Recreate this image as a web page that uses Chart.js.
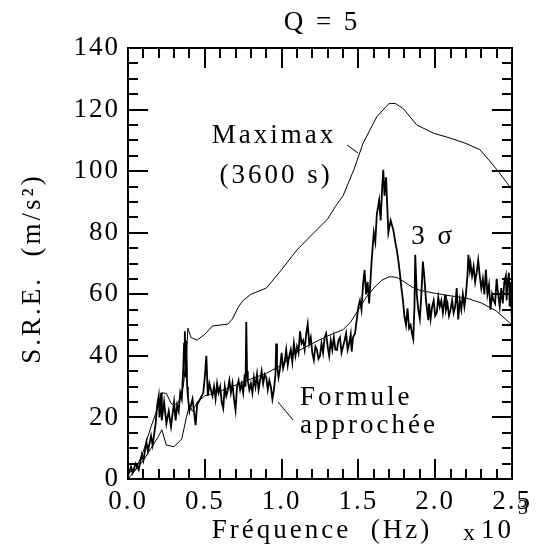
<!DOCTYPE html>
<html>
<head>
<meta charset="utf-8">
<script src="https://cdn.jsdelivr.net/npm/chart.js@4/dist/chart.umd.min.js"></script>
<style>
  html, body { margin: 0; padding: 0; background: #fff; }
  canvas { display: block; }
</style>
</head>
<body>
<canvas id="c" width="543" height="550"></canvas>
<script>
// Frequencies in kHz (axis reads "x 10^3" Hz), response in m/s^2

// Maximax response spectrum (3600 s)
const maximaxFreq = [0.00, 0.05, 0.10, 0.15, 0.20, 0.22, 0.25, 0.28, 0.30, 0.33, 0.36, 0.38, 0.39, 0.41, 0.45,
  0.50, 0.55, 0.65, 0.68, 0.72, 0.75, 0.80, 0.90, 1.00, 1.10, 1.20, 1.30, 1.35, 1.40, 1.47, 1.53, 1.62, 1.70,
  1.74, 1.79, 1.88, 1.99, 2.10, 2.20, 2.29, 2.36, 2.42, 2.50];
const maximaxVal = [0, 3, 9, 17, 24, 28, 27.8, 24.6, 24, 25, 30, 40, 49, 46, 45.1,
  47, 49.7, 50.3, 52, 56, 58, 60, 62, 68, 74.4, 79.5, 84.5, 88.5, 92, 100.4, 109, 117.7, 122,
  122, 120.4, 115, 112.3, 110.7, 109, 107, 103, 99.3, 94];

// Approximate formula
const formuleFreq = [0.00, 0.05, 0.10, 0.15, 0.20, 0.22, 0.25, 0.30, 0.35, 0.38, 0.40, 0.42, 0.45, 0.50, 0.60,
  0.70, 0.80, 0.90, 1.00, 1.10, 1.20, 1.30, 1.40, 1.45, 1.50, 1.55, 1.60, 1.65, 1.70, 1.75, 1.80, 1.85, 1.90,
  2.00, 2.10, 2.20, 2.30, 2.40, 2.50];
const formuleVal = [2, 3, 6, 10, 14, 16, 11, 10.5, 13, 20, 24, 22, 25, 27, 28.5,
  30.5, 32.5, 34.3, 37, 41.4, 44, 46.5, 48.5, 51, 55, 59, 62, 64.5, 65.7, 65.5, 64, 62.3, 61.3,
  60.3, 59.5, 58.8, 57.2, 54.5, 50];

// 3 sigma response
const sigmaFreq = [0.00, 0.02, 0.03, 0.05, 0.07, 0.09, 0.10, 0.12, 0.13, 0.15, 0.16, 0.18, 0.19, 0.20, 0.205,
  0.215, 0.22, 0.235, 0.25, 0.265, 0.28, 0.29, 0.30, 0.31, 0.32, 0.33, 0.34, 0.35, 0.36, 0.365, 0.37, 0.375,
  0.38, 0.385, 0.39, 0.40, 0.42, 0.44, 0.45, 0.47, 0.49, 0.50, 0.51, 0.52, 0.53, 0.54, 0.55, 0.56, 0.57, 0.58,
  0.59, 0.60, 0.61, 0.62, 0.63, 0.64, 0.65, 0.66, 0.67, 0.68, 0.69, 0.70, 0.71, 0.72, 0.73, 0.74, 0.75, 0.76,
  0.765, 0.77, 0.775, 0.78, 0.79, 0.80, 0.81, 0.82, 0.83, 0.84, 0.85, 0.86, 0.87, 0.88, 0.89, 0.90, 0.91, 0.92,
  0.93, 0.94, 0.95, 0.96, 0.965, 0.97, 0.98, 0.99, 1.00, 1.01, 1.02, 1.03, 1.04, 1.05, 1.06, 1.07, 1.08, 1.09,
  1.10, 1.11, 1.12, 1.13, 1.14, 1.15, 1.16, 1.17, 1.18, 1.19, 1.20, 1.21, 1.22, 1.23, 1.24, 1.25, 1.26, 1.27,
  1.28, 1.29, 1.30, 1.31, 1.32, 1.33, 1.34, 1.35, 1.36, 1.37, 1.38, 1.39, 1.40, 1.41, 1.42, 1.43, 1.44, 1.45,
  1.456, 1.465, 1.478, 1.49, 1.50, 1.51, 1.52, 1.53, 1.54, 1.55, 1.56, 1.57, 1.585, 1.60, 1.61, 1.62, 1.635,
  1.645, 1.655, 1.662, 1.67, 1.68, 1.69, 1.695, 1.71, 1.727, 1.74, 1.75, 1.76, 1.77, 1.78, 1.79, 1.80, 1.81,
  1.82, 1.83, 1.84, 1.85, 1.857, 1.865, 1.87, 1.88, 1.89, 1.90, 1.91, 1.92, 1.93, 1.94, 1.955, 1.96, 1.97,
  1.98, 1.99, 2.00, 2.01, 2.02, 2.03, 2.04, 2.05, 2.065, 2.07, 2.08, 2.09, 2.10, 2.11, 2.12, 2.13, 2.14, 2.15,
  2.16, 2.17, 2.18, 2.19, 2.20, 2.21, 2.216, 2.225, 2.23, 2.24, 2.25, 2.26, 2.27, 2.28, 2.29, 2.30, 2.31, 2.32,
  2.33, 2.34, 2.35, 2.36, 2.37, 2.38, 2.39, 2.40, 2.41, 2.42, 2.43, 2.44, 2.45, 2.46, 2.465, 2.47, 2.48, 2.485,
  2.49, 2.495, 2.50];
const sigmaVal = [1, 4, 2, 5, 3, 8, 6, 12, 9, 14, 11, 18, 24, 27, 20,
  28, 19, 25, 18, 22, 17, 21, 25, 19, 24, 22, 28, 26, 36, 44, 48, 33,
  45, 30, 27, 22, 26, 17.5, 24, 26, 28, 33, 40, 27, 31, 29, 27, 30, 26, 31,
  28, 30, 25, 23, 30, 27, 29, 32, 28, 31, 26, 22.4, 30, 32, 29, 31, 28, 34,
  30, 51, 35, 32, 29, 31, 28, 33, 30, 34, 29, 32, 35, 31, 34, 33, 29, 32,
  30, 26, 29, 34, 44, 37, 33, 36, 41, 36, 38, 42, 37, 40, 42, 38, 44, 40,
  43, 41, 48, 44, 45, 42, 47, 50.3, 44, 46, 41, 38.6, 43, 42, 39, 40, 44, 41,
  46, 47.3, 43, 40, 45, 42, 46, 42, 41.9, 45, 46, 41, 43, 45, 47.3, 42, 44, 47,
  41.4, 46, 47.3, 52, 56, 58, 55, 63, 67.9, 60, 64, 57, 70, 80, 77, 86, 90.6,
  84, 95, 100.4, 92, 98, 86, 80, 84, 81, 77, 74.4, 71, 66.8, 62, 58, 52.7, 50,
  55.4, 49, 50, 47, 45.5, 56, 72.8, 60, 55, 52, 60, 70.6, 65, 58, 51.6, 57, 52,
  56, 58, 53, 54, 59, 56, 58, 54, 59.8, 55, 57, 53, 55, 58, 54, 56, 62, 51.8,
  58, 55, 60, 56, 60, 66, 72.8, 68, 70, 66, 69, 64, 67, 71, 66, 62, 65, 60,
  68, 60, 63, 55, 60, 58, 57, 65, 60, 56, 62, 57, 64, 66, 58, 63, 67, 56,
  64, 60, 49];

// Axis ranges and tick spacing
const xMin = 0, xMax = 2.5, xMajor = 0.5, xMinor = 0.1;
const yMin = 0, yMax = 140, yMajor = 20, yMinor = 5;

// Text labels placed in data coordinates
const curveLabels = [
  { text: 'Maximax', x: 0.95, y: 111.4, align: 'center' },
  { text: '(3600 s)', x: 0.964, y: 98.4, align: 'center' },
  { text: '3 \u03C3', x: 1.986, y: 78.6, align: 'center' },
  { text: 'Formule', x: 1.12, y: 26.3, align: 'left' },
  { text: 'approchée', x: 1.12, y: 17.4, align: 'left' }
];
const leaderLines = [
  { x1: 1.426, y1: 108.5, x2: 1.497, y2: 105.9 },
  { x1: 0.977, y1: 25.0, x2: 1.074, y2: 19.2 }
];

const FONT = '"Liberation Serif", "Times New Roman", serif';

function pairs(xs, ys) { return xs.map((x, i) => ({ x: x, y: ys[i] })); }

const spacingPlugin = {
  id: 'spacing',
  beforeDraw(chart) {
    if ('letterSpacing' in chart.ctx) chart.ctx.letterSpacing = '2px';
  }
};

const framePlugin = {
  id: 'frame',
  afterDatasetsDraw(chart) {
    const ctx = chart.ctx;
    const xs = chart.scales.x, ys = chart.scales.y;
    const a = chart.chartArea;
    ctx.save();
    ctx.strokeStyle = '#000';
    ctx.fillStyle = '#000';

    // inward ticks on all four sides
    ctx.lineWidth = 2;
    ctx.beginPath();
    const nx = Math.round((xMax - xMin) / xMinor);
    for (let i = 0; i <= nx; i++) {
      const v = xMin + i * xMinor;
      const px = Math.round(xs.getPixelForValue(v));
      const major = Math.abs(v / xMajor - Math.round(v / xMajor)) < 1e-6;
      const len = major ? 20 : 10;
      ctx.moveTo(px, a.bottom); ctx.lineTo(px, a.bottom - len);
      ctx.moveTo(px, a.top); ctx.lineTo(px, a.top + len);
    }
    const ny = Math.round((yMax - yMin) / yMinor);
    for (let i = 0; i <= ny; i++) {
      const v = yMin + i * yMinor;
      const py = Math.round(ys.getPixelForValue(v));
      const major = v % yMajor === 0;
      const len = major ? 20 : 10;
      ctx.moveTo(a.left, py); ctx.lineTo(a.left + len, py);
      ctx.moveTo(a.right, py); ctx.lineTo(a.right - len, py);
    }
    ctx.stroke();

    // frame
    ctx.strokeRect(a.left, a.top, a.right - a.left, a.bottom - a.top);

    // leader lines
    ctx.lineWidth = 1;
    ctx.beginPath();
    leaderLines.forEach(l => {
      ctx.moveTo(xs.getPixelForValue(l.x1), ys.getPixelForValue(l.y1));
      ctx.lineTo(xs.getPixelForValue(l.x2), ys.getPixelForValue(l.y2));
    });
    ctx.stroke();

    if ('letterSpacing' in ctx) ctx.letterSpacing = '3px';

    // curve labels
    ctx.font = '27px ' + FONT;
    ctx.textBaseline = 'middle';
    curveLabels.forEach(t => {
      ctx.textAlign = t.align;
      ctx.fillText(t.text, xs.getPixelForValue(t.x), ys.getPixelForValue(t.y));
    });

    // title
    const cx = (a.left + a.right) / 2;
    ctx.textAlign = 'center';
    ctx.font = '27px ' + FONT;
    ctx.fillText('Q = 5', cx + 2, 23);

    // x axis title and multiplier
    ctx.fillText('Fréquence  (Hz)', cx + 2, 531);
    ctx.textAlign = 'left';
    ctx.font = '24px ' + FONT;
    ctx.fillText('x', 463, 534);
    ctx.font = '27px ' + FONT;
    ctx.fillText('10', 481, 531);
    ctx.font = '20px ' + FONT;
    ctx.fillText('3', 518, 509);

    // y axis title
    ctx.save();
    ctx.translate(33, (a.top + a.bottom) / 2 + 5);
    ctx.rotate(-Math.PI / 2);
    ctx.textAlign = 'center';
    ctx.font = '27px ' + FONT;
    ctx.fillText('S.R.E.  (m/s\u00B2)', 0, 0);
    ctx.restore();

    ctx.restore();
  }
};

new Chart(document.getElementById('c'), {
  type: 'line',
  data: {
    datasets: [
      { label: '3 sigma', data: pairs(sigmaFreq, sigmaVal), borderColor: '#000', borderWidth: 1.8 },
      { label: 'Maximax', data: pairs(maximaxFreq, maximaxVal), borderColor: '#000', borderWidth: 1 },
      { label: 'Formule approchée', data: pairs(formuleFreq, formuleVal), borderColor: '#000', borderWidth: 1 }
    ]
  },
  options: {
    responsive: false,
    animation: false,
    devicePixelRatio: 1,
    layout: { padding: { left: 0, right: 31, top: 48, bottom: 0 } },
    elements: { point: { radius: 0 }, line: { tension: 0 } },
    plugins: { legend: { display: false }, title: { display: false }, tooltip: { enabled: false } },
    scales: {
      x: {
        type: 'linear', min: xMin, max: xMax,
        grid: { display: false, drawTicks: false },
        border: { display: false },
        ticks: {
          stepSize: xMajor, padding: 7, color: '#000', maxRotation: 0,
          font: { family: FONT, size: 27 },
          callback: v => v.toFixed(1)
        },
        afterFit: s => { s.height = 71; }
      },
      y: {
        min: yMin, max: yMax,
        grid: { display: false, drawTicks: false },
        border: { display: false },
        ticks: {
          stepSize: yMajor, padding: 8, color: '#000',
          font: { family: FONT, size: 27 }
        },
        afterFit: s => { s.width = 128; }
      }
    }
  },
  plugins: [spacingPlugin, framePlugin]
});
</script>
</body>
</html>
